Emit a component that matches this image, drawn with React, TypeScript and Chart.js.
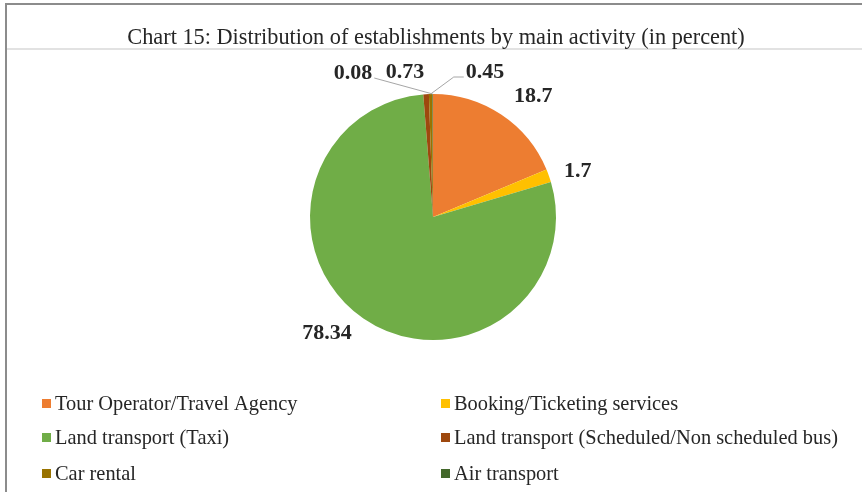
import React, { useEffect, useRef } from "react";
import { Chart, registerables } from "chart.js";

Chart.register(...registerables);

const categories = [
  "Tour Operator/Travel Agency",
  "Booking/Ticketing services",
  "Land transport (Taxi)",
  "Land transport (Scheduled/Non scheduled bus)",
  "Car rental",
  "Air transport",
];
const values = [18.7, 1.7, 78.34, 0.73, 0.45, 0.08];
const valueLabels = ["18.7", "1.7", "78.34", "0.73", "0.45", "0.08"];
const colors = ["#ED7D31", "#FFC000", "#70AD47", "#9E480E", "#997300", "#43682B"];
const titleText = "Chart 15: Distribution of establishments by main activity (in percent)";

// label layout (relative to pie centre); radial for big slices, explicit for crowded ones
const labelLayout: any[] = [
  { r: 157, angleShift: 6 },
  { r: 152, angleShift: 2 },
  { r: 157, angleShift: 8 },
  { dx: -28, dy: -145, leader: false },
  { dx: 52, dy: -145, leader: true, side: "right" },
  { dx: -80, dy: -144, leader: true, side: "left" },
];

const FONT = "'Liberation Serif', 'Times New Roman', serif";

const decorPlugin = {
  id: "decor",
  beforeDraw(chart: any) {
    const ctx = chart.ctx;
    ctx.save();
    ctx.fillStyle = "#ffffff";
    ctx.fillRect(0, 0, chart.width, chart.height);
    // frame
    ctx.strokeStyle = "#8c8c8c";
    ctx.lineWidth = 2;
    ctx.beginPath();
    ctx.moveTo(6, chart.height);
    ctx.lineTo(6, 4);
    ctx.lineTo(chart.width, 4);
    ctx.stroke();
    ctx.strokeStyle = "#e2e2e2";
    ctx.lineWidth = 2;
    ctx.beginPath();
    ctx.moveTo(7, 49);
    ctx.lineTo(chart.width, 49);
    ctx.stroke();
    // title
    ctx.fillStyle = "#262626";
    ctx.font = `22.3px ${FONT}`;
    ctx.textAlign = "center";
    ctx.textBaseline = "alphabetic";
    ctx.fillText(titleText, 436, 44);
    ctx.restore();
  },
  afterDraw(chart: any) {
    const ctx = chart.ctx;
    const meta = chart.getDatasetMeta(0);
    ctx.save();
    meta.data.forEach((arc: any, i: number) => {
      const p = arc.getProps(["x", "y", "startAngle", "endAngle", "outerRadius"], true);
      const mid = (p.startAngle + p.endAngle) / 2;
      const L = labelLayout[i];
      let lx: number, ly: number;
      if (L.r !== undefined) {
        const a = mid + (L.angleShift * Math.PI) / 180;
        lx = p.x + Math.cos(a) * L.r;
        ly = p.y + Math.sin(a) * L.r;
      } else {
        lx = p.x + L.dx;
        ly = p.y + L.dy;
      }
      ctx.font = `bold 22px ${FONT}`;
      ctx.fillStyle = "#262626";
      ctx.textAlign = "center";
      ctx.textBaseline = "middle";
      ctx.fillText(valueLabels[i], lx, ly);
      if (L.leader) {
        const ex = p.x + Math.cos(mid) * p.outerRadius;
        const ey = p.y + Math.sin(mid) * p.outerRadius;
        const w = ctx.measureText(valueLabels[i]).width;
        ctx.strokeStyle = "#a6a6a6";
        ctx.lineWidth = 1;
        ctx.beginPath();
        if (L.side === "left") {
          ctx.moveTo(lx + w / 2 + 2, ly + 5);
          ctx.lineTo(ex, ey);
        } else {
          ctx.moveTo(lx - w / 2 - 2, ly + 5);
          ctx.lineTo(lx - w / 2 - 12, ly + 5);
          ctx.lineTo(ex, ey);
        }
        ctx.stroke();
      }
    });
    // legend (two columns)
    const colX = [42, 441];
    const rowY = [404, 438, 474];
    ctx.font = `20.4px ${FONT}`;
    ctx.textAlign = "left";
    ctx.textBaseline = "middle";
    categories.forEach((c, i) => {
      const x = colX[i % 2];
      const y = rowY[Math.floor(i / 2)];
      ctx.fillStyle = colors[i];
      ctx.fillRect(x, y - 5, 9, 9);
      ctx.fillStyle = "#262626";
      ctx.fillText(c, x + 13, y + 1);
    });
    ctx.restore();
  },
};

export default function App() {
  const ref = useRef<HTMLCanvasElement>(null);
  useEffect(() => {
    document.body.style.margin = "0";
    const chart = new Chart(ref.current!, {
      type: "pie",
      data: {
        labels: categories,
        datasets: [
          {
            data: values,
            backgroundColor: colors,
            borderWidth: 0,
          },
        ],
      },
      options: {
        animation: false,
        responsive: false,
        maintainAspectRatio: false,
        layout: { padding: { top: 94, bottom: 152, left: 4, right: 0 } },
        plugins: {
          legend: { display: false },
          title: { display: false },
          tooltip: { enabled: false },
        },
      },
      plugins: [decorPlugin],
    });
    return () => chart.destroy();
  }, []);
  return (
    <div style={{ width: 862, height: 492 }}>
      <canvas ref={ref} width={862} height={492} style={{ display: "block" }} />
    </div>
  );
}
